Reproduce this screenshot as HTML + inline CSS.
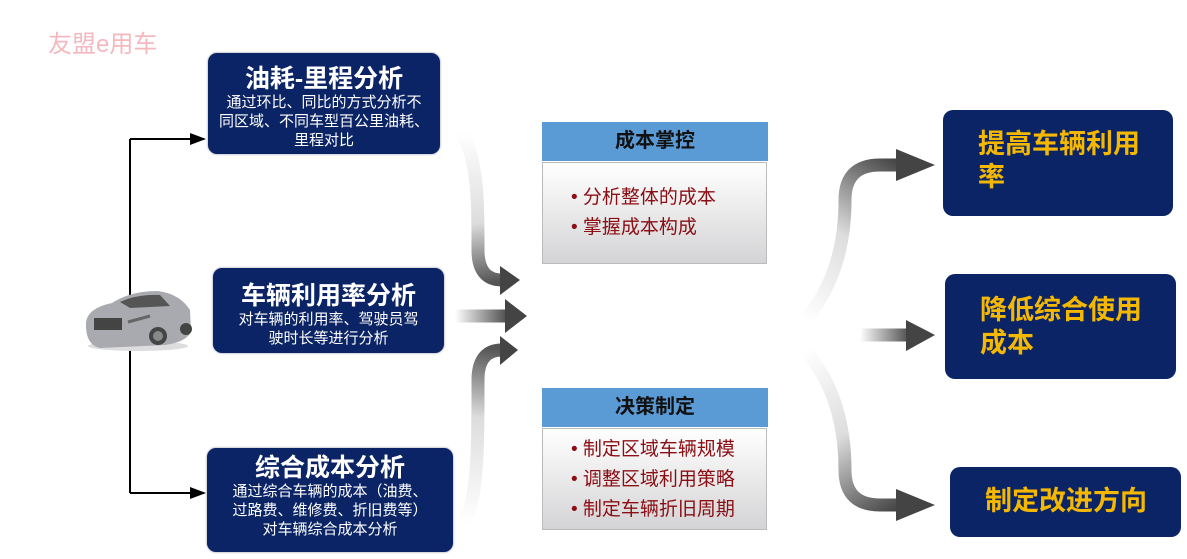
<!DOCTYPE html>
<html><head><meta charset="utf-8"><style>
body{margin:0;width:1187px;height:559px;background:#fff;position:relative;overflow:hidden;font-family:"Liberation Sans","Noto Sans CJK SC",sans-serif}
.nb{position:absolute;background:#0b2466;border-radius:9px;color:#fff;text-align:center;box-shadow:0 0 2px #889}
.nb h{display:block;font-weight:bold;font-size:25px;line-height:28px}
.nb p{margin:0;font-size:15px;line-height:19px}
.yb{position:absolute;background:#0b2466;border-radius:10px;color:#f5b800;font-weight:bold;font-size:27px;line-height:33px;box-sizing:border-box;padding-left:35px}
.hd{position:absolute;background:#5b9bd5;font-weight:bold;font-size:20px;text-align:center;color:#111;left:542px;width:226px;height:39px;line-height:39px}
.bd{position:absolute;left:542px;width:225px;border:1px solid #bbb;background:linear-gradient(#fff,#d4d4d6);color:#8b0e14;font-size:19px;line-height:30px;box-sizing:border-box;padding-left:28px}
</style></head><body>
<div style="position:absolute;left:48px;top:24px;color:#f6b8bf;font-size:24px">友盟e用车</div>
<svg width="1187" height="559" style="position:absolute;left:0;top:0">
<defs>
<linearGradient id="l1" gradientUnits="userSpaceOnUse" x1="478" y1="130" x2="505" y2="280"><stop offset="0" stop-color="#fff"/><stop offset="0.6" stop-color="#ddd"/><stop offset="1" stop-color="#555"/></linearGradient>
<linearGradient id="l2" gradientUnits="userSpaceOnUse" x1="455" y1="0" x2="510" y2="0"><stop offset="0" stop-color="#fff"/><stop offset="1" stop-color="#444"/></linearGradient>
<linearGradient id="l3" gradientUnits="userSpaceOnUse" x1="478" y1="525" x2="505" y2="350"><stop offset="0" stop-color="#fff"/><stop offset="0.6" stop-color="#ddd"/><stop offset="1" stop-color="#555"/></linearGradient>
<linearGradient id="r1" gradientUnits="userSpaceOnUse" x1="805" y1="320" x2="905" y2="165"><stop offset="0" stop-color="#fff"/><stop offset="0.5" stop-color="#ddd"/><stop offset="1" stop-color="#444"/></linearGradient>
<linearGradient id="r2" gradientUnits="userSpaceOnUse" x1="860" y1="0" x2="912" y2="0"><stop offset="0" stop-color="#fff"/><stop offset="1" stop-color="#444"/></linearGradient>
<linearGradient id="r3" gradientUnits="userSpaceOnUse" x1="805" y1="350" x2="905" y2="505"><stop offset="0" stop-color="#fff"/><stop offset="0.5" stop-color="#ddd"/><stop offset="1" stop-color="#444"/></linearGradient>
<marker id="a" markerWidth="8" markerHeight="8" refX="7" refY="4" orient="auto"><path d="M0,1 L8,4 L0,7z" fill="#000"/></marker>
</defs>
<g stroke="#000" stroke-width="2" fill="none">
<path d="M130,139 V493"/>
<path d="M130,139 H204" marker-end="url(#a)"/>
<path d="M130,493 H204" marker-end="url(#a)"/>
</g>
<g fill="none" stroke-width="13">
<path d="M457,128 C478,150 478,200 478,250 Q478,280 502,280" stroke="url(#l1)"/>
<path d="M455,316 H507" stroke="url(#l2)"/>
<path d="M463,525 C478,500 478,450 478,380 Q478,350 502,350" stroke="url(#l3)"/>
<path d="M805,320 C840,280 845,230 845,200 Q845,165 880,165 H900" stroke="url(#r1)"/>
<path d="M860,335 H910" stroke="url(#r2)"/>
<path d="M805,350 C840,390 845,440 845,470 Q845,505 880,505 H900" stroke="url(#r3)"/>
</g>
<g fill="#444">
<path d="M500,266 L520,280 L500,295z"/>
<path d="M505,299 L527,316 L505,333z"/>
<path d="M500,336 L518,350 L500,365z"/>
<path d="M896,149 L935,165 L896,181z"/>
<path d="M906,320 L935,335 L906,351z"/>
<path d="M896,489 L935,505 L896,521z"/>
</g>
<g>
<ellipse cx="138" cy="346" rx="50" ry="5" fill="#ddd"/>
<path d="M86,322 Q88,308 112,303 Q130,291 158,291 Q180,294 190,310 L191,332 Q186,342 165,345 L100,348 Q85,345 86,322z" fill="#a8aab0"/>
<path d="M120,302 Q137,294 160,295 L170,306 L130,308z" fill="#555"/>
<rect x="94" y="318" width="28" height="12" fill="#444"/>
<path d="M128,322 L150,316" stroke="#666" stroke-width="3"/>
<circle cx="158" cy="336" r="9" fill="#444"/><circle cx="158" cy="336" r="5" fill="#888"/>
<circle cx="186" cy="329" r="6" fill="#444"/>
</g>
</svg>
<div class="nb" style="left:208px;top:53px;width:232px;height:101px"><h style="padding-top:12px">油耗-里程分析</h><p>通过环比、同比的方式分析不<br>同区域、不同车型百公里油耗、<br>里程对比</p></div>
<div class="nb" style="left:213px;top:268px;width:231px;height:85px"><h style="padding-top:14px">车辆利用率分析</h><p>对车辆的利用率、驾驶员驾<br>驶时长等进行分析</p></div>
<div class="nb" style="left:207px;top:448px;width:246px;height:104px"><h style="padding-top:6px">综合成本分析</h><p>通过综合车辆的成本（油费、<br>过路费、维修费、折旧费等）<br>对车辆综合成本分析</p></div>
<div class="hd" style="top:122px">成本掌控</div>
<div class="bd" style="top:162px;height:102px;padding-top:20px">• 分析整体的成本<br>• 掌握成本构成</div>
<div class="hd" style="top:388px">决策制定</div>
<div class="bd" style="top:428px;height:102px;padding-top:6px">• 制定区域车辆规模<br>• 调整区域利用策略<br>• 制定车辆折旧周期</div>
<div class="yb" style="left:943px;top:110px;width:230px;height:106px;padding-top:18px">提高车辆利用<br>率</div>
<div class="yb" style="left:945px;top:274px;width:231px;height:105px;padding-top:20px">降低综合使用<br>成本</div>
<div class="yb" style="left:950px;top:467px;width:231px;height:70px;padding-top:18px">制定改进方向</div>
</body></html>
